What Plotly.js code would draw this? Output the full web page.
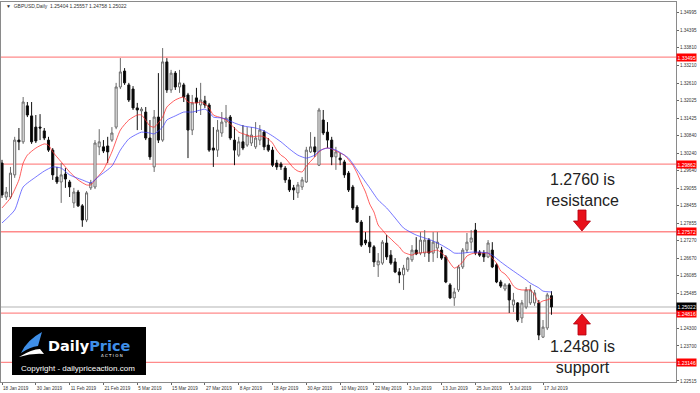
<!DOCTYPE html>
<html>
<head>
<meta charset="utf-8">
<script src="https://cdn.plot.ly/plotly-3.0.1.min.js"></script>
<style>
html,body{margin:0;padding:0;background:#fff;}
#chart{width:700px;height:393px;}
</style>
</head>
<body>
<div id="chart"></div>
<script>
// ---------- DATA ----------
const symbolTitle = "GBPUSD,Daily";
const lastOHLC = ["1.25404", "1.25557", "1.24758", "1.25022"];
const startDate = "2019-01-18";
const barCount = 131;

const opens = [1.2990,1.2875,1.2875,1.2950,1.3068,1.3062,1.3184,1.3150,1.3112,1.3112,
1.3099,1.3068,1.3034,1.2943,1.2926,1.2953,1.2926,1.2855,1.2892,1.2845,
1.2797,1.2906,1.2909,1.3045,1.3045,1.3048,1.3068,1.3112,1.3248,1.3302,
1.3255,1.3241,1.3177,1.3167,1.3163,1.3075,1.2977,1.3146,1.3068,1.3333,
1.3238,1.3295,1.3248,1.3255,1.3221,1.3102,1.3211,1.3187,1.3201,1.3187,
1.3041,1.3034,1.3092,1.3129,1.3146,1.3068,1.3017,1.3062,1.3051,1.3058,
1.3045,1.3068,1.3095,1.3051,1.3034,1.2990,1.2987,1.2973,1.2933,1.2906,
1.2889,1.2909,1.2926,1.3028,1.3045,1.2983,1.3136,1.3095,1.3068,1.3011,
1.3007,1.2994,1.2956,1.2909,1.2841,1.2790,1.2729,1.2722,1.2706,1.2645,
1.2651,1.2719,1.2678,1.2655,1.2621,1.2611,1.2628,1.2662,1.2695,1.2685,
1.2685,1.2729,1.2685,1.2702,1.2695,1.2672,1.2577,1.2533,1.2560,1.2638,
1.2695,1.2722,1.2763,1.2688,1.2685,1.2672,1.2695,1.2645,1.2587,1.2563,
1.2577,1.2509,1.2516,1.2465,1.2502,1.2516,1.2516,1.2516,1.2400,1.2431,
1.25404];
const highs = [1.3001,1.2909,1.2977,1.3079,1.3109,1.3214,1.3197,1.3197,1.3153,1.3156,
1.3109,1.3079,1.3041,1.2977,1.2990,1.2973,1.2933,1.2906,1.2899,1.2851,
1.2895,1.2933,1.3068,1.3105,1.3068,1.3079,1.3112,1.3262,1.3346,1.3312,
1.3262,1.3251,1.3194,1.3180,1.3180,1.3136,1.3170,1.3295,1.3380,1.3346,
1.3306,1.3302,1.3306,1.3262,1.3228,1.3221,1.3245,1.3262,1.3218,1.3194,
1.3112,1.3136,1.3163,1.3187,1.3153,1.3112,1.3079,1.3119,1.3112,1.3112,
1.3129,1.3119,1.3102,1.3075,1.3045,1.3001,1.2994,1.2980,1.2943,1.2916,
1.2926,1.2943,1.3045,1.3095,1.3079,1.3177,1.3170,1.3129,1.3079,1.3045,
1.3024,1.3001,1.2963,1.2916,1.2848,1.2797,1.2756,1.2811,1.2712,1.2685,
1.2729,1.2746,1.2695,1.2668,1.2634,1.2645,1.2672,1.2712,1.2739,1.2756,
1.2763,1.2736,1.2756,1.2756,1.2706,1.2678,1.2583,1.2567,1.2645,1.2702,
1.2753,1.2763,1.2787,1.2695,1.2695,1.2729,1.2722,1.2651,1.2594,1.2583,
1.2583,1.2550,1.2519,1.2526,1.2570,1.2577,1.2560,1.2526,1.2458,1.2550,
1.25557];
const lows = [1.2872,1.2865,1.2868,1.2940,1.3034,1.3055,1.3146,1.3055,1.3058,1.3068,
1.3068,1.3028,1.2933,1.2919,1.2855,1.2906,1.2875,1.2838,1.2841,1.2774,
1.2790,1.2899,1.2902,1.3017,1.3024,1.2990,1.3062,1.3105,1.3241,1.3255,
1.3197,1.3170,1.3102,1.3102,1.3068,1.3001,1.2960,1.3058,1.3062,1.3228,
1.3228,1.3238,1.3228,1.3197,1.3007,1.3085,1.3160,1.3153,1.3177,1.3028,
1.2977,1.3011,1.3079,1.3112,1.3068,1.2983,1.3011,1.3034,1.3045,1.3048,
1.3038,1.3051,1.3034,1.3028,1.2977,1.2967,1.2967,1.2923,1.2892,1.2865,
1.2872,1.2899,1.2923,1.3024,1.3011,1.2980,1.3085,1.3041,1.2983,1.2967,
1.2983,1.2940,1.2892,1.2831,1.2787,1.2706,1.2712,1.2685,1.2638,1.2604,
1.2645,1.2662,1.2645,1.2617,1.2583,1.2560,1.2621,1.2655,1.2678,1.2678,
1.2672,1.2655,1.2655,1.2668,1.2662,1.2583,1.2529,1.2506,1.2553,1.2631,
1.2685,1.2695,1.2678,1.2672,1.2655,1.2668,1.2634,1.2583,1.2567,1.2556,
1.2482,1.2485,1.2451,1.2448,1.2495,1.2509,1.2506,1.2390,1.2397,1.2424,
1.24758];
const closes = [1.2882,1.2892,1.2956,1.3068,1.3062,1.3197,1.3153,1.3062,1.3065,1.3109,
1.3075,1.3034,1.2950,1.2926,1.2950,1.2936,1.2909,1.2892,1.2845,1.2797,
1.2889,1.2923,1.3058,1.3062,1.3031,1.3028,1.3092,1.3248,1.3299,1.3262,
1.3204,1.3177,1.3170,1.3173,1.3075,1.3011,1.3146,1.3068,1.3333,1.3238,
1.3295,1.3248,1.3262,1.3214,1.3102,1.3194,1.3194,1.3204,1.3187,1.3034,
1.3034,1.3102,1.3129,1.3143,1.3075,1.3034,1.3062,1.3041,1.3085,1.3085,
1.3075,1.3102,1.3045,1.3034,1.2983,1.2977,1.2977,1.2933,1.2899,1.2899,
1.2916,1.2933,1.3034,1.3045,1.3028,1.3170,1.3092,1.3068,1.3011,1.3028,
1.3001,1.2950,1.2899,1.2838,1.2790,1.2712,1.2719,1.2706,1.2655,1.2658,
1.2722,1.2672,1.2651,1.2621,1.2611,1.2634,1.2668,1.2695,1.2682,1.2729,
1.2729,1.2685,1.2722,1.2722,1.2668,1.2587,1.2533,1.2553,1.2638,1.2695,
1.2722,1.2736,1.2685,1.2678,1.2672,1.2719,1.2638,1.2587,1.2573,1.2577,
1.2526,1.2526,1.2458,1.2516,1.2560,1.2560,1.2550,1.2407,1.2434,1.2543,
1.25022];

// fast (red) moving average, read at these bar numbers
const fastBars = [0,2,4,5,6,8,10,11,12,14,16,18,20,21,22,24,26,28,30,32,33,35,36,38,39,41,43,44,46,47,48,49,50,52,53,55,56,58,59,61,62,63,64,65,66,67,69,70,71,72,74,75,76,77,78,80,81,82,83,84,85,86,87,88,89,90,91,92,93,94,95,96,97,98,99,100,101,102,103,104,105,106,107,108,109,110,111,112,114,115,116,117,118,119,120,121,122,123,124,125,126,127,128,129,130];
const fastVals = [1.2838,1.2872,1.2933,1.2990,1.3017,1.3041,1.3055,1.3051,1.3028,1.2994,1.2960,1.2933,1.2916,1.2916,1.2933,1.2967,1.3028,1.3102,1.3136,1.3153,1.3153,1.3116,1.3112,1.3146,1.3180,1.3204,1.3214,1.3197,1.3194,1.3197,1.3190,1.3177,1.3153,1.3143,1.3136,1.3109,1.3095,1.3085,1.3079,1.3082,1.3079,1.3072,1.3058,1.3034,1.3017,1.3007,1.2973,1.2963,1.2960,1.2980,1.3011,1.3028,1.3038,1.3041,1.3038,1.3024,1.3017,1.3001,1.2983,1.2956,1.2923,1.2892,1.2851,1.2824,1.2780,1.2763,1.2746,1.2733,1.2719,1.2706,1.2688,1.2682,1.2678,1.2685,1.2685,1.2688,1.2688,1.2692,1.2695,1.2685,1.2672,1.2651,1.2634,1.2641,1.2655,1.2675,1.2682,1.2685,1.2685,1.2685,1.2668,1.2651,1.2624,1.2614,1.2597,1.2573,1.2563,1.2560,1.2560,1.2560,1.2543,1.2516,1.2523,1.2526,1.2533];
// slow (blue) moving average, read at these bar numbers
const slowBars = [0,3,5,8,10,12,14,16,19,21,23,26,28,30,32,33,35,36,38,39,41,43,45,47,48,49,50,52,53,55,57,60,62,64,66,68,70,72,74,75,77,79,81,82,84,86,87,89,91,93,95,97,98,100,102,104,106,107,109,111,113,115,116,118,120,122,124,125,127,128,130];
const slowVals = [1.2787,1.2831,1.2909,1.2943,1.2963,1.2977,1.2973,1.2950,1.2933,1.2923,1.2946,1.2980,1.3034,1.3072,1.3089,1.3095,1.3092,1.3089,1.3112,1.3136,1.3150,1.3163,1.3163,1.3170,1.3173,1.3163,1.3146,1.3143,1.3139,1.3126,1.3116,1.3109,1.3099,1.3082,1.3062,1.3038,1.3017,1.3007,1.3017,1.3031,1.3041,1.3034,1.3017,1.3007,1.2967,1.2926,1.2906,1.2865,1.2838,1.2804,1.2770,1.2753,1.2746,1.2736,1.2726,1.2712,1.2695,1.2685,1.2685,1.2688,1.2688,1.2685,1.2678,1.2655,1.2634,1.2614,1.2594,1.2583,1.2567,1.2556,1.2553];

// horizontal levels and current price
const levels = [1.33495, 1.29862, 1.27572, 1.24816, 1.23146];
const levelLabels = ["1.33495", "1.29862", "1.27572", "1.24816", "1.23146"];
const currentPrice = 1.25022;
const currentLabel = "1.25022";

// axis ticks
const priceTicks = [1.34995,1.34395,1.33810,1.33210,1.32610,1.32025,1.31425,1.30840,1.30240,1.29640,1.29055,1.28455,1.27855,1.27270,1.26670,1.26085,1.25485,1.24300,1.23700,1.22515];
const priceTickText = ["1.34995","1.34395","1.33810","1.33210","1.32610","1.32025","1.31425","1.30840","1.30240","1.29640","1.29055","1.28455","1.27855","1.27270","1.26670","1.26085","1.25485","1.24300","1.23700","1.22515"];
const dateTickEvery = 8;
const dateTickText = ["18 Jan 2019","30 Jan 2019","11 Feb 2019","21 Feb 2019","5 Mar 2019","15 Mar 2019","27 Mar 2019","8 Apr 2019","18 Apr 2019","30 Apr 2019","10 May 2019","22 May 2019","3 Jun 2019","13 Jun 2019","25 Jun 2019","5 Jul 2019","17 Jul 2019"];

const resistanceText = "1.2760 is<br>resistance";
const supportText = "1.2480 is<br>support";
const logoWord1 = "Daily", logoWord2 = "Price", logoWord3 = "A C T I O N";
const copyrightText = "Copyright - dailypriceaction.com";

// ---------- build categories (trading days) ----------
const dates = [];
{
  const d = new Date(startDate + "T00:00:00Z");
  while (dates.length < barCount) {
    const wd = d.getUTCDay();
    if (wd !== 0 && wd !== 6) dates.push(d.toISOString().slice(0, 10));
    d.setUTCDate(d.getUTCDate() + 1);
  }
}
const tickVals = dateTickText.map((_, k) => dates[k * dateTickEvery]);

// ---------- pixel helpers for decorations (plot area 1..676 x 2..382) ----------
const PX0 = 1, PX1 = 676, PY0 = 2, PY1 = 382;
const px = x => (x - PX0) / (PX1 - PX0);
const py = y => 1 - (y - PY0) / (PY1 - PY0);

const traces = [
  {
    type: "candlestick", x: dates, open: opens, high: highs, low: lows, close: closes,
    increasing: {line: {color: "#6a6a6a", width: 1}, fillcolor: "#ffffff"},
    decreasing: {line: {color: "#111111", width: 1}, fillcolor: "#000000"},
    whiskerwidth: 0, hoverinfo: "skip", showlegend: false
  },
  {
    type: "scatter", mode: "lines", x: fastBars.map(i => dates[i]), y: fastVals,
    line: {color: "rgba(255,40,40,0.75)", width: 1, shape: "spline", smoothing: 0.6},
    hoverinfo: "skip", showlegend: false
  },
  {
    type: "scatter", mode: "lines", x: slowBars.map(i => dates[i]), y: slowVals,
    line: {color: "rgba(60,60,255,0.7)", width: 1, shape: "spline", smoothing: 0.6},
    hoverinfo: "skip", showlegend: false
  }
];

const shapes = [];
// current price gray line
shapes.push({type: "line", xref: "paper", yref: "y", x0: 0, x1: 1, y0: currentPrice, y1: currentPrice,
  line: {color: "#d9d9d9", width: 2}, layer: "below"});
levels.forEach(v => shapes.push({type: "line", xref: "paper", yref: "y", x0: 0, x1: 1, y0: v, y1: v,
  line: {color: "rgba(255,60,60,0.6)", width: 1.3}, layer: "below"}));

// red block arrows
function arrowPath(cx, yShaft, yNeck, yTip) {
  const s = 4, h = 8.5;
  const P = (x, y) => px(x).toFixed(4) + "," + py(y).toFixed(4);
  return "M" + P(cx - s, yShaft) + " L" + P(cx + s, yShaft) + " L" + P(cx + s, yNeck) + " L" + P(cx + h, yNeck) +
    " L" + P(cx, yTip) + " L" + P(cx - h, yNeck) + " L" + P(cx - s, yNeck) + " Z";
}
shapes.push({type: "path", xref: "paper", yref: "paper", path: arrowPath(582, 210, 221, 231),
  fillcolor: "#e8101a", line: {color: "#b00010", width: 0.8}, layer: "above"});
shapes.push({type: "path", xref: "paper", yref: "paper", path: arrowPath(582, 335, 324, 314),
  fillcolor: "#e8101a", line: {color: "#b00010", width: 0.8}, layer: "above"});

// logo box
shapes.push({type: "rect", xref: "paper", yref: "paper", x0: px(12), x1: px(146), y0: py(375), y1: py(327),
  fillcolor: "#000000", line: {color: "#000", width: 0}, layer: "above"});
{
  const P = (x, y) => px(x).toFixed(4) + "," + py(y).toFixed(4);
  shapes.push({type: "path", xref: "paper", yref: "paper",
    path: "M" + P(21, 353) + " Q" + P(27, 340) + " " + P(42, 332) + " L" + P(38, 346) + " Q" + P(30, 347) + " " + P(21, 353) + " Z",
    fillcolor: "#3f8fe8", line: {width: 0}, layer: "above"});
  shapes.push({type: "path", xref: "paper", yref: "paper",
    path: "M" + P(19, 357) + " Q" + P(32, 349) + " " + P(40, 349) + " L" + P(44, 354) + " Q" + P(32, 353) + " " + P(19, 357) + " Z",
    fillcolor: "#ffffff", line: {width: 0}, layer: "above"});
}

const annotations = [];
// header
annotations.push({xref: "paper", yref: "paper", x: px(4), y: py(6), xanchor: "left", yanchor: "middle",
  text: "\u25BC  " + symbolTitle + "  " + lastOHLC.join(" "), showarrow: false,
  font: {family: "Liberation Sans, Arial, sans-serif", size: 5, color: "#333"}});
// right level labels
levels.forEach((v, k) => annotations.push({xref: "paper", yref: "y", x: 1, y: v, xanchor: "left", yanchor: "middle",
  text: levelLabels[k], showarrow: false, bgcolor: "#ff0000", borderpad: 0.6, xshift: 0,
  font: {family: "Liberation Sans, Arial, sans-serif", size: 5, color: "#ffffff"}}));
annotations.push({xref: "paper", yref: "y", x: 1, y: currentPrice, xanchor: "left", yanchor: "middle",
  text: currentLabel, showarrow: false, bgcolor: "#000000", borderpad: 0.6,
  font: {family: "Liberation Sans, Arial, sans-serif", size: 5, color: "#ffffff"}});
// commentary
annotations.push({xref: "paper", yref: "paper", x: px(582), y: py(190), xanchor: "center", yanchor: "middle",
  text: resistanceText, showarrow: false, align: "center",
  font: {family: "Liberation Sans, Arial, sans-serif", size: 16, color: "#222"}});
annotations.push({xref: "paper", yref: "paper", x: px(582), y: py(357), xanchor: "center", yanchor: "middle",
  text: supportText, showarrow: false, align: "center",
  font: {family: "Liberation Sans, Arial, sans-serif", size: 16, color: "#222"}});
// logo text
annotations.push({xref: "paper", yref: "paper", x: px(46), y: py(346), xanchor: "left", yanchor: "middle",
  text: "<b>" + logoWord1 + "</b><b><span style='color:#3f8fe8'>" + logoWord2 + "</span></b>", showarrow: false,
  font: {family: "DejaVu Sans, Arial, sans-serif", size: 14.5, color: "#ffffff"}});
annotations.push({xref: "paper", yref: "paper", x: px(112), y: py(355), xanchor: "center", yanchor: "middle",
  text: logoWord3, showarrow: false,
  font: {family: "DejaVu Sans, Arial, sans-serif", size: 4, color: "#ffffff"}});
annotations.push({xref: "paper", yref: "paper", x: px(78), y: py(368), xanchor: "center", yanchor: "middle",
  text: copyrightText, showarrow: false,
  font: {family: "Liberation Sans, Arial, sans-serif", size: 8, color: "#ffffff"}});

const layout = {
  width: 700, height: 393,
  margin: {l: PX0, r: 700 - PX1, t: PY0, b: 393 - PY1, pad: 0},
  paper_bgcolor: "#ffffff", plot_bgcolor: "#ffffff",
  showlegend: false,
  xaxis: {
    type: "category", range: [-0.24, 159.46], rangeslider: {visible: false},
    tickvals: tickVals, ticktext: dateTickText, ticks: "outside", ticklen: 2, tickcolor: "#666",
    ticklabelposition: "outside right", tickangle: 0, automargin: false, ticklabelstandoff: 1,
    tickfont: {family: "Liberation Sans, Arial, sans-serif", size: 4.6, color: "#333"},
    showgrid: false, zeroline: false, showline: true, linecolor: "#8a8a8a", linewidth: 1, mirror: true,
    fixedrange: true
  },
  yaxis: {
    side: "right", range: [1.22479, 1.35361], automargin: false,
    tickvals: priceTicks, ticktext: priceTickText, ticks: "outside", ticklen: 2, tickcolor: "#666",
    tickfont: {family: "Liberation Sans, Arial, sans-serif", size: 4.6, color: "#333"},
    showgrid: false, zeroline: false, showline: true, linecolor: "#8a8a8a", linewidth: 1, mirror: true,
    fixedrange: true
  },
  shapes: shapes,
  annotations: annotations
};

Plotly.newPlot("chart", traces, layout, {staticPlot: true, displayModeBar: false});
</script>
</body>
</html>
